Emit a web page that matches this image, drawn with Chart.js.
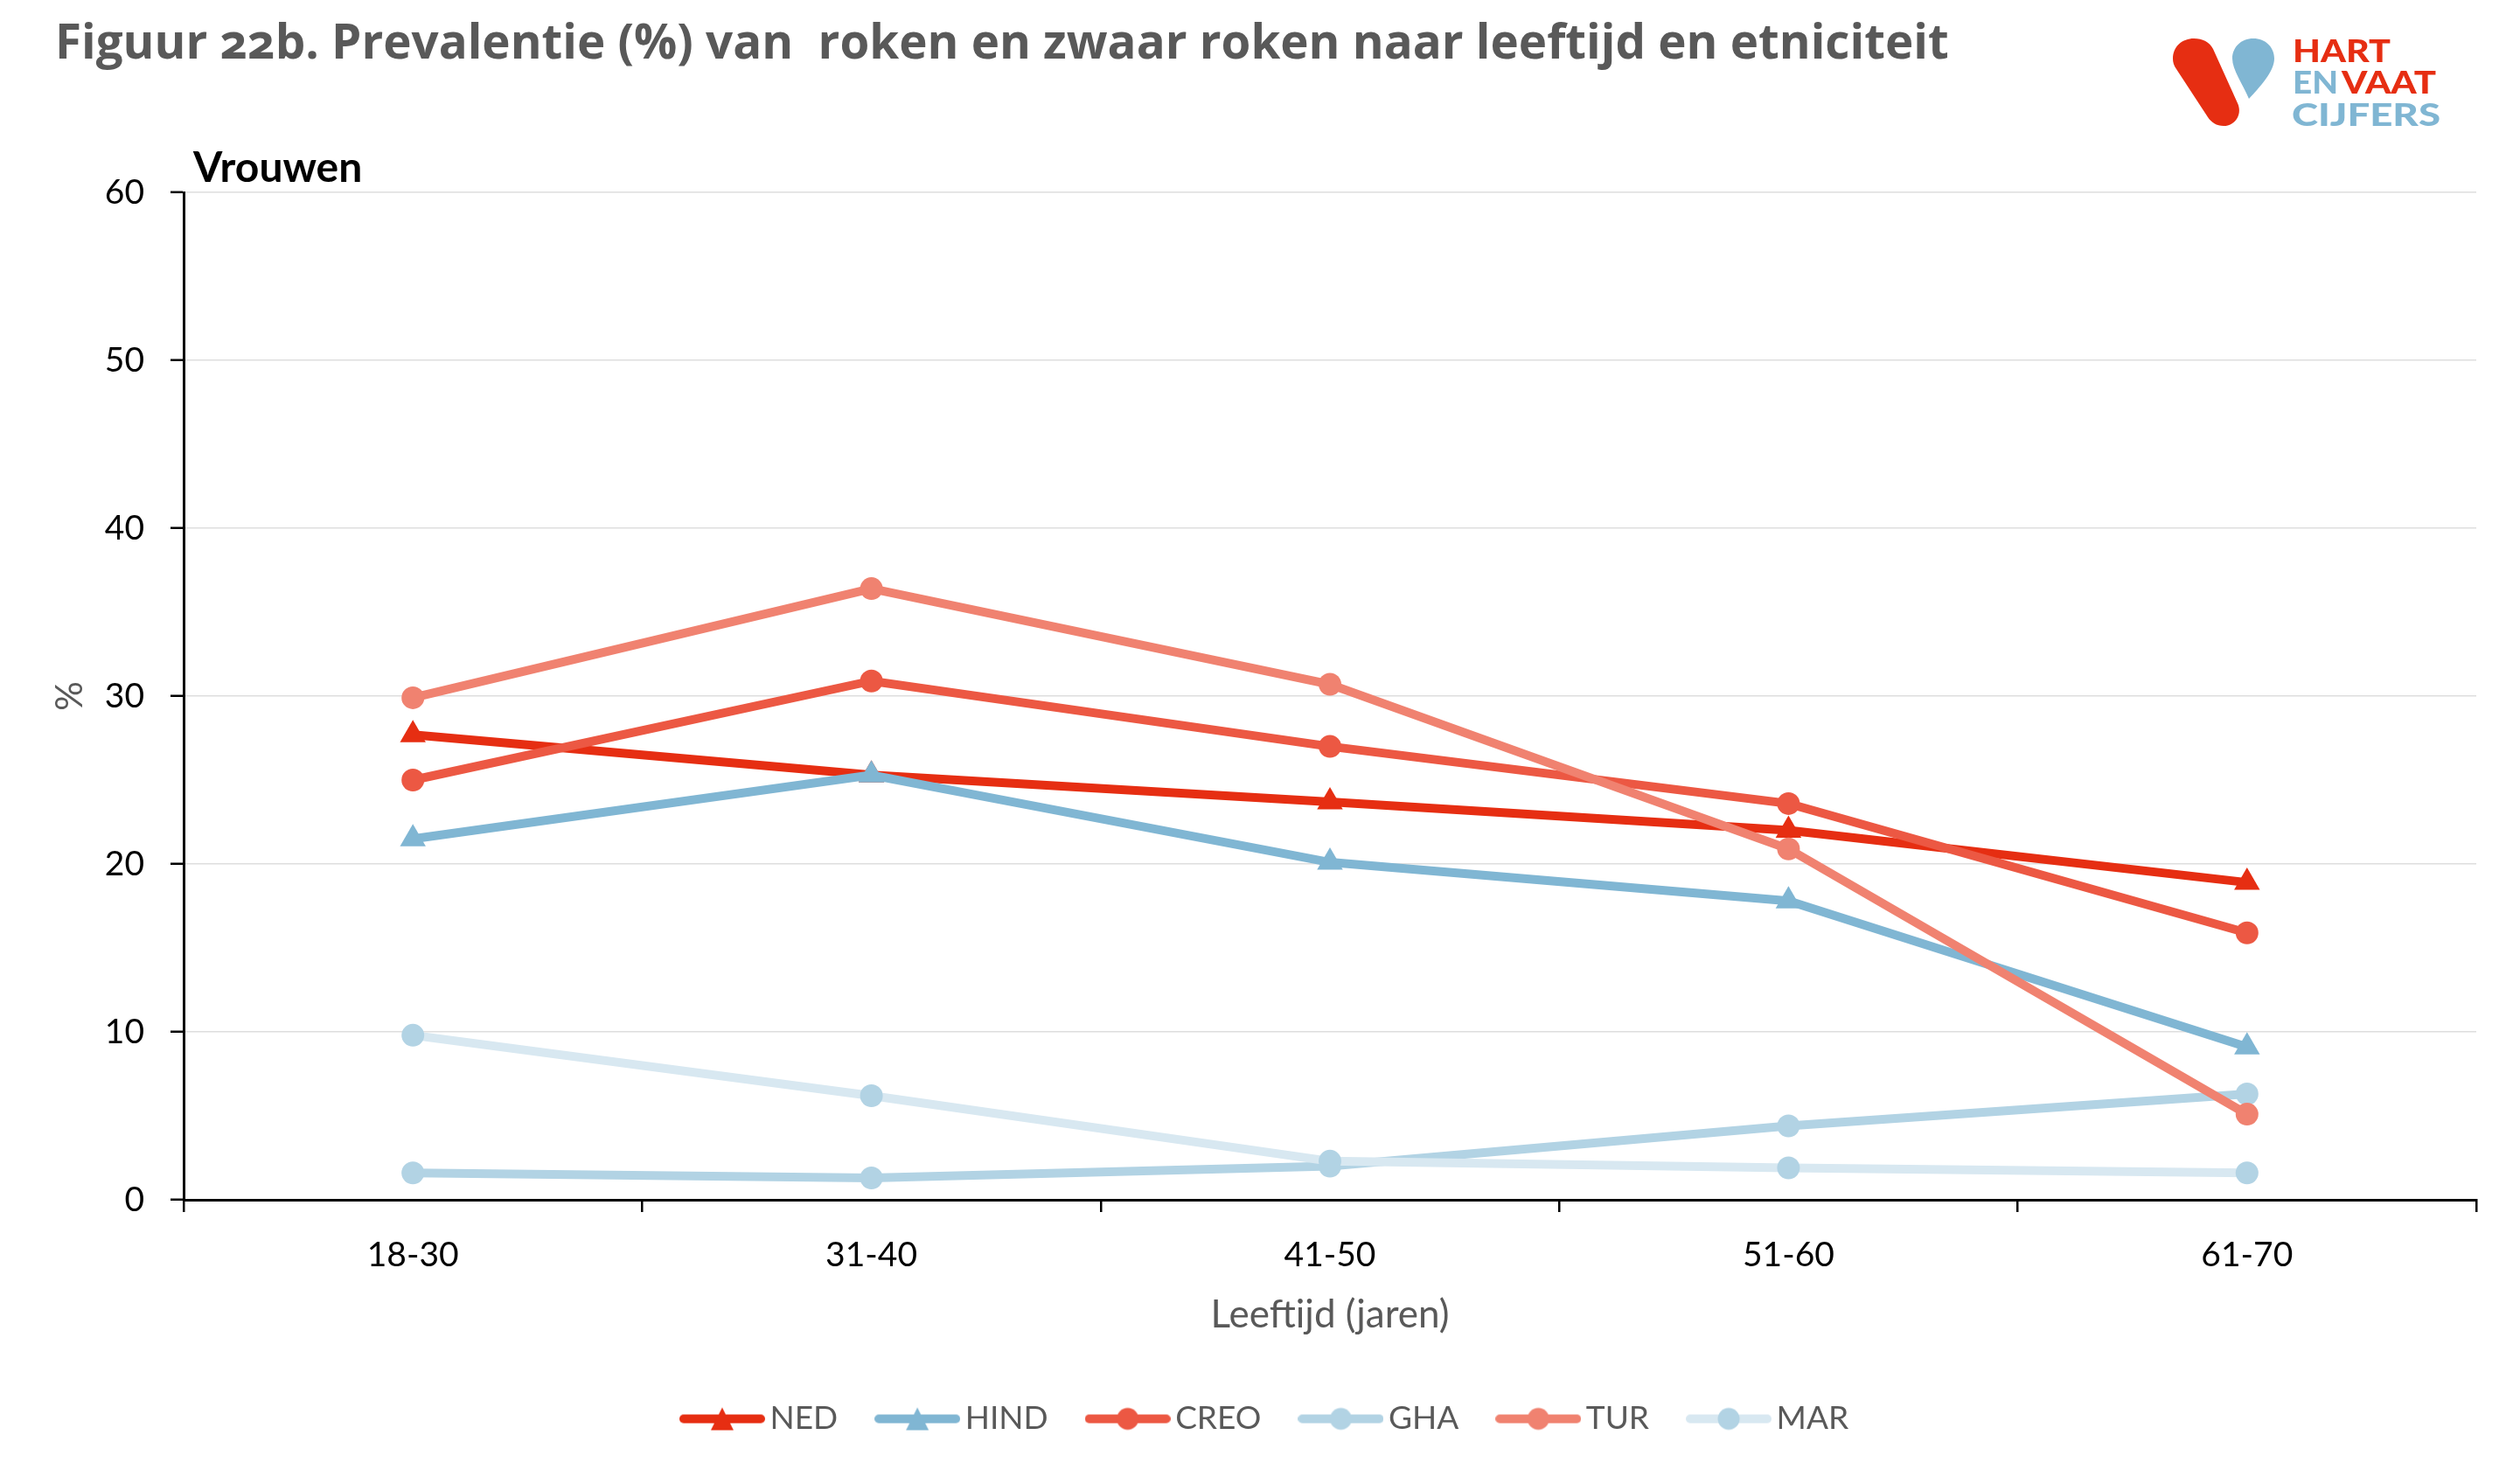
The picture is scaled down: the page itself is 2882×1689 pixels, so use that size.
<!DOCTYPE html>
<html lang="nl">
<head>
<meta charset="utf-8">
<title>Figuur 22b</title>
<script src="https://cdn.jsdelivr.net/npm/chart.js@4"></script>
<style>
  body { margin: 0; background: #fff; font-family: Lato, sans-serif; }
  #wrap { position: relative; width: 2882px; height: 1689px; overflow: hidden; }
  #titel { position: absolute; left: 63px; top: 9px; font-family: "Open Sans", sans-serif; font-size: 54.7px; font-weight: 700; color: #595959; white-space: pre; font-variant-numeric: oldstyle-nums; }
  #panel { position: absolute; left: 221px; top: 161px; font-size: 48px; font-weight: 700; color: #000; font-variant-ligatures: none; }
  #logo { position: absolute; left: 0; top: 0; }
  canvas { position: absolute; left: 0; top: 0; }
</style>
</head>
<body>
<div id="wrap">
  <canvas id="grafiek" width="2882" height="1689"></canvas>
  <div id="titel">Figuur 22b. Prevalentie (%) van  roken en zwaar roken naar leeftijd en etniciteit</div>
  <div id="panel">Vrouwen</div>
  <svg id="logo" width="2882" height="160" font-family="Lato" font-weight="900" font-size="36">
    <path fill="#E62E12" d="M2485 67C2485 53 2496 44 2509 44C2519 44 2527 48 2531 56L2559 118C2565 131 2556 144 2543 144C2535 144 2529 140 2525 134L2489 79C2486 75 2485 71 2485 67Z"/>
    <path fill="#80B6D3" d="M2553 67C2553 54 2563 44 2577 44C2591 44 2601 54 2601 67C2601 82 2584 100 2572 113C2565 96 2553 80 2553 67Z"/>
    <text x="2622" y="71" fill="#E62E12" textLength="112" lengthAdjust="spacingAndGlyphs">HART</text>
    <text x="2622" y="107" fill="#80B6D3" textLength="52" lengthAdjust="spacingAndGlyphs">EN</text>
    <text x="2678" y="107" fill="#E62E12" textLength="108" lengthAdjust="spacingAndGlyphs">VAAT</text>
    <text x="2621" y="144" fill="#80B6D3" textLength="170" lengthAdjust="spacingAndGlyphs">CIJFERS</text>
  </svg>
</div>
<script>
const leeftijden = ['18-30', '31-40', '41-50', '51-60', '61-70'];
const yTicks = [0, 10, 20, 30, 40, 50, 60];

const ned = [27.7, 25.3, 23.7, 22.0, 18.9];
const hind = [21.5, 25.3, 20.1, 17.8, 9.1];
const creo = [25.0, 30.9, 27.0, 23.6, 15.9];
const gha = [1.6, 1.3, 2.0, 4.4, 6.3];
const tur = [29.9, 36.4, 30.7, 20.9, 5.1];
const mar = [9.8, 6.2, 2.3, 1.9, 1.6];

const grijs = '#595959';

// legend swatch: line with marker on it, as in the original
function swatch(lijn, punt, vorm) {
  const c = document.createElement('canvas');
  c.width = 98;
  c.height = 30;
  const g = c.getContext('2d');
  g.strokeStyle = lijn;
  g.lineWidth = 10;
  g.lineCap = 'round';
  g.beginPath();
  g.moveTo(5, 15);
  g.lineTo(93, 15);
  g.stroke();
  g.fillStyle = punt;
  g.beginPath();
  if (vorm === 'triangle') {
    g.moveTo(49, 2);
    g.lineTo(62, 28);
    g.lineTo(36, 28);
    g.closePath();
  } else {
    g.arc(49, 15, 12.5, 0, Math.PI * 2);
  }
  g.fill();
  return c;
}

function serie(label, data, lijn, punt, vorm, volgorde) {
  return {
    label: label,
    data: data,
    borderColor: lijn,
    backgroundColor: punt,
    pointBackgroundColor: punt,
    pointBorderWidth: 0,
    borderWidth: 10,
    pointStyle: vorm,
    pointRadius: vorm === 'triangle' ? 17 : 13,
    tension: 0,
    order: volgorde,
    legendIcon: swatch(lijn, punt, vorm)
  };
}

const schuifLegenda = {
  id: 'schuifLegenda',
  afterLayout(chart) {
    const l = chart.legend;
    l.left += 36;
    l.right += 36;
    l.top = 1626 - 55 - 22;
  }
};

new Chart(document.getElementById('grafiek'), {
  type: 'line',
  data: {
    labels: leeftijden,
    datasets: [
      serie('NED', ned, '#E62E12', '#E62E12', 'triangle', 6),
      serie('HIND', hind, '#80B6D3', '#80B6D3', 'triangle', 5),
      serie('CREO', creo, '#EC5843', '#EC5843', 'circle', 4),
      serie('GHA', gha, '#B2D3E4', '#B2D3E4', 'circle', 3),
      serie('TUR', tur, '#F08270', '#F08270', 'circle', 2),
      serie('MAR', mar, '#D8E8F1', '#B2D3E4', 'circle', 1)
    ]
  },
  plugins: [schuifLegenda],
  options: {
    responsive: false,
    animation: false,
    devicePixelRatio: 1,
    layout: { padding: { top: 220, right: 50, left: 0, bottom: 0 } },
    plugins: {
      tooltip: { enabled: false },
      legend: {
        position: 'bottom',
        labels: {
          usePointStyle: true,
          pointStyleWidth: 72,
          padding: 55,
          color: grijs,
          font: { family: 'Lato', size: 37 },
          generateLabels(chart) {
            return chart.data.datasets.map((d, i) => ({
              text: d.label,
              fontColor: grijs,
              pointStyle: d.legendIcon,
              datasetIndex: i
            }));
          }
        }
      }
    },
    scales: {
      x: {
        offset: true,
        afterFit(s) { s.height = 317 - s.chart.legend.height; },
        border: { color: '#000', width: 3 },
        grid: { offset: true, drawOnChartArea: false, tickColor: '#000', tickLength: 14, lineWidth: 2.5 },
        ticks: { color: '#000', padding: 26, maxRotation: 0, font: { family: 'Lato', size: 39 } },
        title: { display: true, text: 'Leeftijd (jaren)', color: grijs, padding: { top: 18, bottom: 57 }, font: { family: 'Lato', size: 44 } }
      },
      y: {
        min: 0,
        max: 60,
        afterFit(s) { s.width = 210; },
        afterBuildTicks(s) { s.ticks = yTicks.map(v => ({ value: v })); },
        border: { color: '#000', width: 3 },
        grid: { color: '#DEDEDE', lineWidth: 1.5, tickColor: '#000', tickWidth: 2.5, tickLength: 15 },
        ticks: { color: '#000', padding: 30, font: { family: 'Lato', size: 39 } },
        title: { display: true, text: '%', color: grijs, padding: { top: 55, bottom: 0 }, font: { family: 'Lato', size: 42 } }
      }
    }
  }
});
</script>
</body>
</html>
